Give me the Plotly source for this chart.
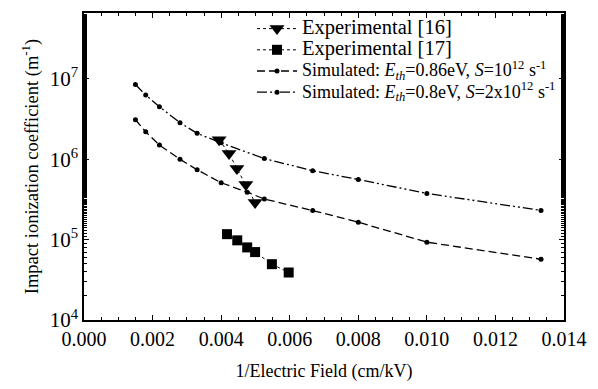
import plotly.graph_objects as go

# Data
exp16_x = [0.00394, 0.00423, 0.00446, 0.00472, 0.00499]
exp16_y = [1.75e6, 1.18e6, 7.7e5, 4.85e5, 2.9e5]

exp17_x = [0.00417, 0.00447, 0.00476, 0.00499, 0.00548, 0.00597]
exp17_y = [1.17e5, 9.8e4, 8.0e4, 7.0e4, 4.95e4, 3.9e4]

sim1_x = [0.0015, 0.0018, 0.0022, 0.0028, 0.0033, 0.0040, 0.00476, 0.00526, 0.00667, 0.0080, 0.0100, 0.01333]
sim1_y = [3.1e6, 2.2e6, 1.5e6, 1.0e6, 7.4e5, 5.1e5, 3.9e5, 3.2e5, 2.3e5, 1.65e5, 9.3e4, 5.7e4]

sim2_x = [0.0015, 0.0018, 0.0022, 0.0028, 0.0033, 0.0040, 0.00526, 0.00667, 0.0080, 0.0100, 0.01333]
sim2_y = [8.5e6, 6.3e6, 4.5e6, 2.85e6, 2.1e6, 1.6e6, 1.02e6, 7.2e5, 5.6e5, 3.76e5, 2.31e5]

y_tickvals = [1e4, 1e5, 1e6, 1e7]
y_ticktext = ["10<sup>4</sup>", "10<sup>5</sup>", "10<sup>6</sup>", "10<sup>7</sup>"]
x_tickvals = [0.000, 0.002, 0.004, 0.006, 0.008, 0.010, 0.012, 0.014]
x_ticktext = ["0.000", "0.002", "0.004", "0.006", "0.008", "0.010", "0.012", "0.014"]

legend_names = [
    "Experimental [16]",
    "Experimental [17]",
    "Simulated: <i>E</i><sub><i>th</i></sub>=0.86eV, <i>S</i>=10<sup>12</sup> s<sup>-1</sup>",
    "Simulated: <i>E</i><sub><i>th</i></sub>=0.8eV, <i>S</i>=2x10<sup>12</sup> s<sup>-1</sup>",
]
legend_sizes = [20.5, 20.5, 18, 18]

FONT = "Liberation Serif, Times New Roman, serif"


def lname(i):
    return '<span style="font-size:%spx">%s</span>' % (legend_sizes[i], legend_names[i])


fig = go.Figure()
fig.add_trace(go.Scatter(
    x=exp16_x, y=exp16_y, mode="lines+markers", name=lname(0),
    line=dict(color="black", width=1, dash="dot"),
    marker=dict(symbol="triangle-down", size=13, color="black")))
fig.add_trace(go.Scatter(
    x=exp17_x, y=exp17_y, mode="lines+markers", name=lname(1),
    line=dict(color="black", width=1, dash="dot"),
    marker=dict(symbol="square", size=10, color="black")))
fig.add_trace(go.Scatter(
    x=sim1_x, y=sim1_y, mode="lines+markers", name=lname(2),
    line=dict(color="black", width=1.3, dash="8px,4px"),
    marker=dict(symbol="circle", size=5, color="black")))
fig.add_trace(go.Scatter(
    x=sim2_x, y=sim2_y, mode="lines+markers", name=lname(3),
    line=dict(color="black", width=1.3, dash="10px,3px,2px,3px,2px,3px"),
    marker=dict(symbol="circle", size=5, color="black")))

fig.update_layout(
    width=598, height=389,
    margin=dict(l=84, r=30, t=11, b=69),
    paper_bgcolor="white", plot_bgcolor="white",
    font=dict(family=FONT, size=19, color="black"),
    showlegend=True,
    legend=dict(x=0.35, y=1.0, xanchor="left", yanchor="top",
                bgcolor="rgba(0,0,0,0)", borderwidth=0,
                font=dict(family=FONT, size=14), itemwidth=40,
                tracegroupgap=0),
)
fig.update_xaxes(
    range=[0, 0.014], tickvals=x_tickvals, ticktext=x_ticktext,
    ticks="inside", ticklen=5, tickwidth=1, tickcolor="black",
    minor=dict(ticks="inside", ticklen=3, dtick=0.0005, tickcolor="black"),
    showline=True, linecolor="black", linewidth=1.5, mirror="ticks",
    showgrid=False, zeroline=False,
    title=dict(text="1/Electric Field (cm/kV)", standoff=16,
               font=dict(family=FONT, size=18)),
    tickfont=dict(family=FONT, size=20))
fig.update_yaxes(
    type="log", range=[4, 7.82], tickvals=y_tickvals, ticktext=y_ticktext,
    ticks="inside", ticklen=5, tickwidth=1, tickcolor="black",
    minor=dict(ticks="inside", ticklen=3, tickcolor="black", showgrid=False),
    showline=True, linecolor="black", linewidth=1.5, mirror="ticks",
    showgrid=False, zeroline=False,
    title=dict(text="Impact ionization coefficient (m<sup>-1</sup>)", standoff=6,
               font=dict(family=FONT, size=18.5)),
    tickfont=dict(family=FONT, size=21))

fig.write_html("out.html")
